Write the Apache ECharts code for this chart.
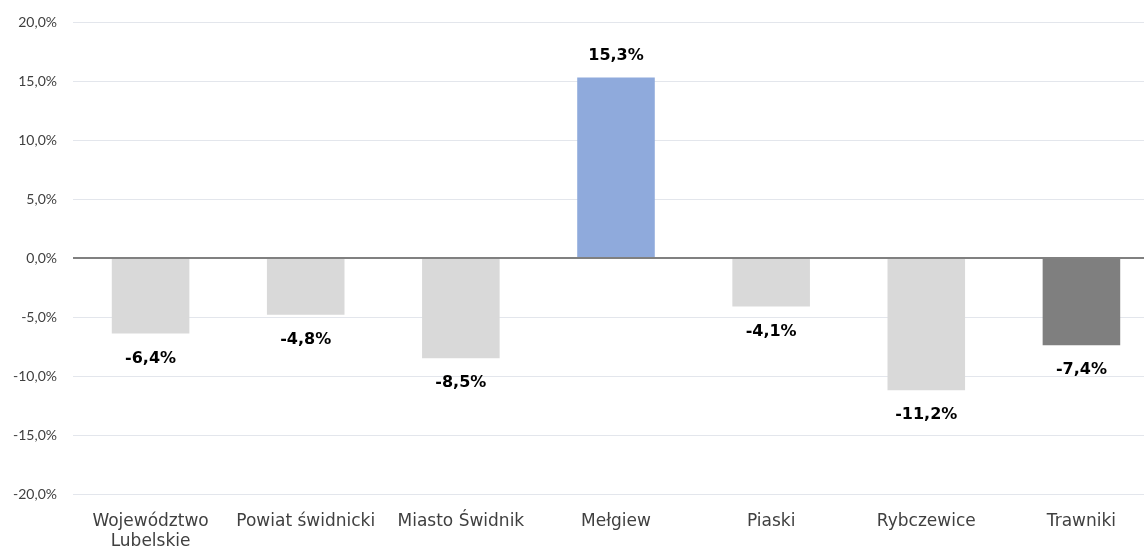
<!DOCTYPE html>
<html>
<head>
<meta charset="utf-8">
<script src="https://cdn.jsdelivr.net/npm/echarts@6/dist/echarts.min.js"></script>
<style>
  html, body { margin: 0; padding: 0; background: #fff; }
  #chart { width: 1144px; height: 549px; }
</style>
</head>
<body>
<div id="chart"></div>
<script>
const categories = ['Województwo\nLubelskie', 'Powiat świdnicki', 'Miasto Świdnik', 'Mełgiew', 'Piaski', 'Rybczewice', 'Trawniki']
const values = [-6.4, -4.8, -8.5, 15.3, -4.1, -11.2, -7.4]
const barColors = ['#d9d9d9', '#d9d9d9', '#d9d9d9', '#8faadc', '#d9d9d9', '#d9d9d9', '#7f7f7f']

const fmt = v => v.toFixed(1).replace('.', ',') + '%'

const chart = echarts.init(document.getElementById('chart'))
chart.setOption({
  animation: false,
  grid: { left: 73, width: 1086, top: 22, bottom: 55, containLabel: false, outerBoundsMode: 'none' },
  xAxis: {
    type: 'category',
    data: categories,
    axisLine: { show: false },
    axisTick: { show: false },
    axisLabel: {
      interval: 0,
      margin: 18,
      fontSize: 17,
      lineHeight: 20,
      color: '#404040',
      fontFamily: '"DejaVu Sans", sans-serif',
    },
  },
  yAxis: {
    type: 'value',
    min: -20,
    max: 20,
    interval: 5,
    axisLine: { show: false },
    axisTick: { show: false },
    axisLabel: {
      formatter: fmt,
      fontSize: 14,
      color: '#404040',
      margin: 16,
      fontFamily: 'Lato, sans-serif',
    },
    splitLine: { lineStyle: { color: '#e3e6ec', width: 1 } },
  },
  series: [{
    type: 'bar',
    barWidth: '50%',
    data: values.map((v, i) => ({
      value: v,
      itemStyle: { color: barColors[i] },
      label: { position: v >= 0 ? 'top' : 'bottom', distance: v >= 0 ? 14 : 17 },
    })),
    label: {
      show: true,
      formatter: p => fmt(p.value),
      fontSize: 16,
      fontWeight: 'bold',
      color: '#000',
      fontFamily: '"DejaVu Sans", sans-serif',
    },
    markLine: {
      silent: true,
      symbol: 'none',
      label: { show: false },
      lineStyle: { color: '#808080', width: 2, type: 'solid' },
      data: [{ yAxis: 0 }],
    },
  }],
})
</script>
</body>
</html>
